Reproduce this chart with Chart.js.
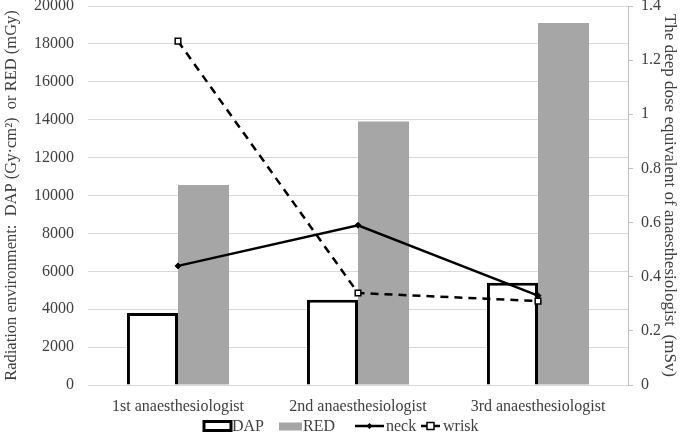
<!DOCTYPE html>
<html>
<head>
<meta charset="utf-8">
<script src="https://cdn.jsdelivr.net/npm/chart.js@4"></script>
<style>
  html, body { margin: 0; padding: 0; background: #fff; }
  #wrap { width: 685px; height: 438px; position: relative; }
</style>
</head>
<body>
<div id="wrap"><canvas id="canvas" width="685" height="438"></canvas></div>
<script>
const categories = ['1st anaesthesiologist', '2nd anaesthesiologist', '3rd anaesthesiologist'];
const dapValues = [3800, 4500, 5400];
const redValues = [10550, 13900, 19100];
const neckValues = [0.44, 0.59, 0.33];
const wriskValues = [1.27, 0.34, 0.31];
const leftTicks = { min: 0, max: 20000, step: 2000 };
const rightTicks = { min: 0, max: 1.4, step: 0.2 };

const serif = "'Liberation Serif', 'Times New Roman', serif";
const textColor = '#404040';
const gridColor = '#d9d9d9';

// legend drawn by hand so each item gets the same marker as in the figure
const legendPlugin = {
    id: 'customLegend',
    afterDraw(chart) {
        const ctx = chart.ctx;
        const y = 426;
        ctx.save();
        ctx.font = '16px ' + serif;
        ctx.textBaseline = 'middle';
        ctx.textAlign = 'left';

        // DAP
        ctx.lineWidth = 3;
        ctx.strokeStyle = '#000';
        ctx.fillStyle = '#fff';
        ctx.fillRect(204, y - 4.5, 27, 9);
        ctx.strokeRect(204, y - 4.5, 27, 9);
        ctx.fillStyle = textColor;
        ctx.fillText('DAP', 232, y + 1);

        // RED
        ctx.fillStyle = '#a6a6a6';
        ctx.fillRect(279, y - 3.5, 23, 8);
        ctx.fillStyle = textColor;
        ctx.fillText('RED', 303, y + 1);

        // neck
        ctx.lineWidth = 2.5;
        ctx.beginPath(); ctx.moveTo(355, y); ctx.lineTo(384, y); ctx.stroke();
        ctx.fillStyle = '#000';
        ctx.beginPath();
        ctx.moveTo(369.5, y - 3); ctx.lineTo(372.5, y); ctx.lineTo(369.5, y + 3); ctx.lineTo(366.5, y);
        ctx.closePath(); ctx.fill();
        ctx.fillStyle = textColor;
        ctx.fillText('neck', 386, y + 1);

        // wrisk
        ctx.lineWidth = 2.5;
        ctx.beginPath(); ctx.moveTo(421, y); ctx.lineTo(440, y); ctx.stroke();
        ctx.lineWidth = 1.5;
        ctx.fillStyle = '#fff';
        ctx.fillRect(427, y - 3.5, 7, 7);
        ctx.strokeRect(427, y - 3.5, 7, 7);
        ctx.fillStyle = textColor;
        ctx.fillText('wrisk', 443, y + 1);
        ctx.restore();
    }
};

const ctx = document.getElementById('canvas').getContext('2d');
const chart = new Chart(ctx, {
    type: 'bar',
    data: {
        labels: categories,
        datasets: [
            {
                type: 'line', label: 'neck', data: neckValues, yAxisID: 'y1', order: 1,
                borderColor: '#000', borderWidth: 2.5, tension: 0,
                pointStyle: 'rectRot', pointRadius: 3, pointBackgroundColor: '#000',
                pointBorderColor: '#000', pointBorderWidth: 1
            },
            {
                type: 'line', label: 'wrisk', data: wriskValues, yAxisID: 'y1', order: 0,
                borderColor: '#000', borderWidth: 2.5, borderDash: [8, 6], tension: 0,
                pointStyle: 'rect', pointRadius: 4, pointBackgroundColor: '#fff',
                pointBorderColor: '#000', pointBorderWidth: 1.5
            },
            {
                label: 'DAP', data: dapValues, yAxisID: 'y', order: 2,
                backgroundColor: '#fff', borderColor: '#000', borderWidth: 3,
                categoryPercentage: 0.567, barPercentage: 1
            },
            {
                label: 'RED', data: redValues, yAxisID: 'y', order: 2,
                backgroundColor: '#a6a6a6', borderWidth: 0,
                categoryPercentage: 0.567, barPercentage: 1
            }
        ]
    },
    options: {
        responsive: false,
        animation: false,
        layout: { padding: { top: 6, left: 0, right: 0, bottom: 0 } },
        plugins: { legend: { display: false }, tooltip: { enabled: false } },
        scales: {
            x: {
                grid: { display: false },
                border: { display: true, color: gridColor, width: 1 },
                ticks: { color: textColor, font: { family: serif, size: 16 }, padding: 4 },
                afterFit(s) { s.height = 53; }
            },
            y: {
                position: 'left',
                min: leftTicks.min, max: leftTicks.max,
                ticks: {
                    stepSize: leftTicks.step, color: textColor, font: { family: serif, size: 16 }, padding: 14,
                    callback: v => String(v)
                },
                grid: { color: gridColor, drawTicks: false },
                border: { display: false },
                title: {
                    display: true, text: 'Radiation environment:  DAP (Gy·cm²)  or RED (mGy)',
                    color: textColor, font: { family: serif, size: 16.5 }, padding: { top: 2, bottom: 0 }
                },
                afterFit(s) { s.width = 88; s.paddingTop = 0; s.paddingBottom = 0; }
            },
            y1: {
                position: 'right',
                min: rightTicks.min, max: rightTicks.max,
                ticks: {
                    stepSize: rightTicks.step, color: textColor, font: { family: serif, size: 16 }, padding: 8,
                    callback: v => String(Math.round(v * 10) / 10)
                },
                grid: { drawOnChartArea: false, drawTicks: true, tickLength: 5, color: '#bfbfbf' },
                border: { display: true, color: '#bfbfbf', width: 1 },
                title: {
                    display: true, text: 'The deep dose equivalent of anaesthesiologist  (mSv)',
                    color: textColor, font: { family: serif, size: 17 }, padding: { top: 5, bottom: 0 }
                },
                afterFit(s) { s.width = 57; s.paddingTop = 0; s.paddingBottom = 0; }
            }
        }
    },
    plugins: [legendPlugin]
});
</script>
</body>
</html>
